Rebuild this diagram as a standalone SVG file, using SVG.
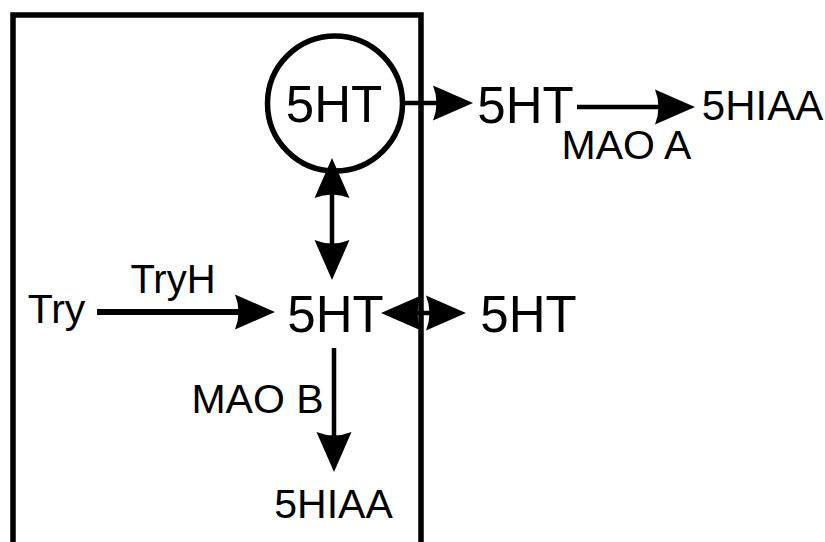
<svg xmlns="http://www.w3.org/2000/svg" width="825" height="542" viewBox="0 0 825 542">
  <style>
    .t { font-family: "Liberation Sans", Arial, Helvetica, sans-serif; fill: #000; text-anchor: middle; }
    .big { font-size: 51px; }
    .mid { font-size: 41px; }
    .ln { stroke: #000; stroke-width: 4.5; fill: none; }
    .frame { stroke: #000; stroke-width: 5.5; fill: none; }
  </style>
  <defs>
    <marker id="ah" markerUnits="userSpaceOnUse" markerWidth="40" markerHeight="40" refX="20" refY="0" orient="auto-start-reverse" overflow="visible">
      <path d="M40,0 L0,-17.5 Q7,0 0,17.5 Z" fill="#000"/>
    </marker>
  </defs>

  <g id="cell">
    <path class="frame" d="M13,548 V15 H421 V548"/>
  </g>

  <g id="vesicle">
    <circle cx="335" cy="103.5" r="67.5" class="frame"/>
    <text class="t big" x="334" y="122">5HT</text>
  </g>

  <g id="ht-released">
    <text class="t big" x="525.5" y="123">5HT</text>
  </g>
  <g id="hiaa-outer">
    <text class="t" style="font-size:42px" x="762.5" y="120">5HIAA</text>
  </g>
  <g id="ht-cyto">
    <text class="t big" x="335.5" y="332">5HT</text>
  </g>
  <g id="ht-extra">
    <text class="t big" x="528.5" y="332">5HT</text>
  </g>
  <g id="try">
    <text class="t mid" x="56.5" y="323">Try</text>
  </g>
  <g id="hiaa-inner">
    <text class="t mid" x="333.5" y="518">5HIAA</text>
  </g>

  <g id="connectors">
    <line class="ln" x1="403" y1="103" x2="453" y2="103" marker-end="url(#ah)"/>
    <line class="ln" x1="577" y1="107" x2="675" y2="107" marker-end="url(#ah)"/>
    <text class="t mid" x="626.5" y="159">MAO A</text>
    <line class="ln" x1="332" y1="178" x2="332" y2="260" marker-start="url(#ah)" marker-end="url(#ah)"/>
    <line class="ln" x1="97" y1="312" x2="255" y2="312" style="stroke-width:6" marker-end="url(#ah)"/>
    <text class="t" style="font-size:40px" x="173" y="293">TryH</text>
    <line class="ln" x1="401" y1="313" x2="446" y2="313" marker-start="url(#ah)" marker-end="url(#ah)"/>
    <line class="ln" x1="334" y1="348" x2="334" y2="452" marker-end="url(#ah)"/>
    <text class="t mid" x="257.5" y="413">MAO B</text>
  </g>
</svg>
